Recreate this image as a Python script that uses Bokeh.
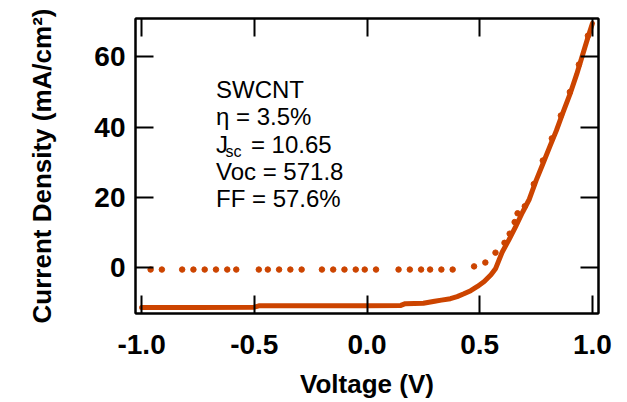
from bokeh.plotting import figure
from bokeh.models import Range1d, LinearAxis, FixedTicker, Label
from bokeh.embed import file_html
from bokeh.resources import INLINE

# ---- data ----
voltage_light = [-1.00, -0.75, -0.50, -0.48, -0.20, 0.00, 0.15, 0.17, 0.25, 0.30,
                 0.33, 0.37, 0.40, 0.43, 0.46, 0.49, 0.52, 0.55, 0.57, 0.60,
                 0.63, 0.66, 0.69, 0.72, 0.75, 0.78, 0.81, 0.84, 0.87, 0.90,
                 0.93, 0.96, 0.98, 1.00]
current_light = [-11.3, -11.3, -11.2, -10.8, -10.8, -10.8, -10.7, -10.2, -10.1, -9.5,
                 -9.2, -8.8, -8.2, -7.4, -6.5, -5.3, -3.9, -2.0, -0.3, 4.5,
                 8.0, 11.8, 15.8, 19.5, 24.8, 29.5, 34.3, 39.0, 44.3, 49.3,
                 55.0, 61.3, 65.5, 69.5]

voltage_dark = [-0.96, -0.91, -0.82, -0.77, -0.72, -0.67, -0.62, -0.58, -0.48, -0.44,
                -0.39, -0.34, -0.29, -0.20, -0.15, -0.10, -0.05, -0.01, 0.04, 0.14,
                0.19, 0.24, 0.28, 0.33, 0.38, 0.475, 0.525, 0.57, 0.61, 0.633,
                0.655, 0.668, 0.70, 0.74, 0.78, 0.82, 0.86, 0.90, 0.94, 0.98]
current_dark = [-0.5, -0.5, -0.5, -0.5, -0.5, -0.5, -0.5, -0.5, -0.5, -0.5,
                -0.5, -0.5, -0.5, -0.5, -0.5, -0.5, -0.5, -0.5, -0.5, -0.5,
                -0.5, -0.5, -0.5, -0.5, -0.5, 0.4, 1.5, 4.3, 7.1, 9.7,
                13.0, 15.5, 17.5, 23.8, 30.5, 36.8, 43.3, 50.0, 57.8, 66.0]

x_ticks = [-1.0, -0.5, 0.0, 0.5, 1.0]
x_tick_labels = ["-1.0", "-0.5", "0.0", "0.5", "1.0"]
y_ticks = [0, 20, 40, 60]
y_tick_labels = ["0", "20", "40", "60"]

x_title = "Voltage (V)"
y_title = "Current Density (mA/cm²)"

ann_name = "SWCNT"
ann_eta = "η = 3.5%"
ann_j = "J"
ann_j_sub = "sc"
ann_j_val = "= 10.65"
ann_voc = "Voc = 571.8"
ann_ff = "FF = 57.6%"

ORANGE = "#cc4400"
FONT = "Liberation Sans"

p = figure(width=627, height=402,
           x_range=Range1d(-1.027, 1.027), y_range=Range1d(-13.0, 70.9),
           output_backend="svg", toolbar_location=None,
           min_border_left=135, min_border_right=29,
           min_border_top=18, min_border_bottom=89)
p.xgrid.visible = False
p.ygrid.visible = False
p.outline_line_color = "black"
p.outline_line_width = 2
p.outline_line_alpha = 1.0
p.background_fill_color = "white"
p.border_fill_color = "white"

p.add_layout(LinearAxis(), "above")
p.add_layout(LinearAxis(), "right")

for ax in p.xaxis:
    ax.ticker = FixedTicker(ticks=x_ticks)
for ax in p.yaxis:
    ax.ticker = FixedTicker(ticks=y_ticks)

for ax in p.xaxis + p.yaxis:
    ax.axis_line_color = "black"
    ax.axis_line_width = 2
    ax.major_tick_line_color = "black"
    ax.major_tick_line_width = 2
    ax.major_tick_in = 18
    ax.major_tick_out = 0
    ax.minor_tick_line_color = None
    ax.major_label_text_font = FONT
    ax.major_label_text_font_style = "bold"
    ax.major_label_text_font_size = "28px"
    ax.major_label_text_color = "black"

p.below[0].major_label_overrides = {t: l for t, l in zip(x_ticks, x_tick_labels)}
p.left[0].major_label_overrides = {t: l for t, l in zip(y_ticks, y_tick_labels)}
# mirrored axes: ticks only
p.above[0].major_label_overrides = {t: "" for t in x_ticks}
p.above[0].major_label_standoff = 0
p.right[0].major_label_overrides = {t: "" for t in y_ticks}
p.right[0].major_label_standoff = 0

bx = p.below[0]
bx.major_label_standoff = 21
bx.axis_label = x_title
bx.axis_label_text_font = FONT
bx.axis_label_text_font_style = "bold"
bx.axis_label_text_font_size = "26px"
bx.axis_label_text_color = "black"
bx.axis_label_standoff = 12

ly = p.left[0]
ly.major_label_standoff = 10
ly.axis_label = y_title
ly.axis_label_text_font = FONT
ly.axis_label_text_font_style = "bold"
ly.axis_label_text_font_size = "26px"
ly.axis_label_text_color = "black"
ly.axis_label_standoff = 34

p.line(voltage_light, current_light, line_color=ORANGE, line_width=5, line_join="round", line_cap="round")
p.scatter(voltage_dark, current_dark, size=5.5, color=ORANGE)

def lab(x, y, text, size="24px", yoff=0):
    p.add_layout(Label(x=x, y=y, text=text, text_font=FONT, text_font_size=size,
                       text_color="black", text_baseline="alphabetic", y_offset=yoff))

lab(-0.670, 50.7, ann_name)
lab(-0.670, 43.0, ann_eta)
lab(-0.670, 35.2, ann_j)
lab(-0.628, 35.2, ann_j_sub, size="16px", yoff=-7)
lab(-0.515, 35.2, ann_j_val)
lab(-0.670, 27.5, ann_voc)
lab(-0.670, 19.7, ann_ff)

open("out.html", "w").write(file_html(p, INLINE))
